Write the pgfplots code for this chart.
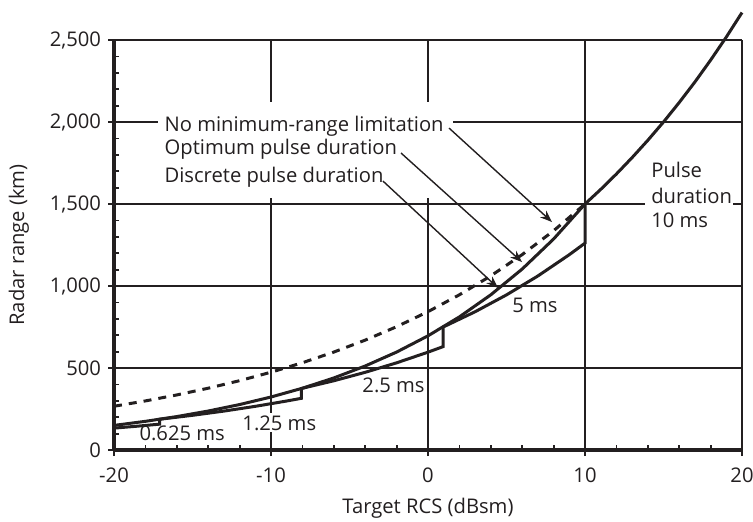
\documentclass[border=0pt]{standalone}
\usepackage{fontspec}
\setmainfont{Open Sans}
\usepackage{pgfplots}
\pgfplotsset{compat=1.18}
\usetikzlibrary{arrows.meta}
\definecolor{ink}{HTML}{231F20}
\begin{document}
\begin{tikzpicture}[font=\fontsize{10.1}{12}\selectfont]
\path[use as bounding box] (-57pt,-35.5pt) rectangle (319.5pt,225pt);
\begin{axis}[
 at={(0,0)}, anchor=south west,
 scale only axis, width=314pt, height=205pt,
 xmin=-20, xmax=20, ymin=0, ymax=2500,
 clip=false,
 axis x line*=bottom, axis y line*=left,
 axis line style={line width=1.6pt, color=ink},
 xtick={-20,-10,...,20}, ytick={0,500,...,2500},
 minor xtick={-18,-16,-14,-12,-8,-6,-4,-2,2,4,6,8,12,14,16,18},
 minor ytick={100,200,300,400,600,700,800,900,1100,1200,1300,1400,1600,1700,1800,1900,2100,2200,2300,2400},
 grid=major, major grid style={line width=0.8pt, color=ink},
 tick align=outside, major tick length=3pt, minor tick length=-2.5pt,
 every tick/.style={line width=0.9pt, color=ink},
 scaled y ticks=false,
 /pgf/number format/assume math mode=true,
 yticklabel style={/pgf/number format/1000 sep={,}, text=ink},
 xticklabel style={text=ink, yshift=-2.5pt},
 xlabel={Target RCS (dBsm)},
 ylabel={Radar range (km)},
 xlabel style={at={(axis description cs:0.5,-0.1415)}, anchor=center, text=ink},
 ylabel style={at={(axis description cs:-0.1513,0.5)}, anchor=center, rotate=0, text=ink},
]
% No minimum-range limitation (dashed)
\addplot[ink, line width=1.5pt, dash pattern=on 4pt off 3.5pt] coordinates {
(-20,266.7) (-18,299.3) (-16,335.8) (-14,376.8) (-12,422.8) (-10,474.3)
(-8,532.2) (-6,597.2) (-4,670.0) (-2,751.8) (0,843.5) (2,946.4)
(4,1061.9) (6,1191.5) (8,1336.9) (10,1500)};
% Optimum pulse duration
\addplot[ink, line width=1.5pt] coordinates {
(-20,150) (-18,174.9) (-16,203.9) (-14,237.7) (-12,277.2) (-10,323.2)
(-8,376.8) (-6,439.3) (-4,512.2) (-2,597.2) (0,696.2) (2,811.8)
(4,946.4) (6,1103.5) (8,1286.5) (10,1500)
(11,1589) (12,1683.0) (13,1783) (14,1888.4) (15,2000) (16,2118.8) (17,2244) (18,2377.3) (19,2518) (20,2667.4)};
% Discrete pulse duration
\addplot[ink, line width=1.5pt] coordinates {
(-20,133.4) (-18.5,145.4) (-17.093,157.7) (-17.093,187.5)
(-15,211.5) (-13,237.3) (-11,266.3) (-9,298.8) (-8.062,315.3) (-8.062,375)
(-6,422.2) (-4,473.7) (-2,531.6) (0,596.6) (0.969,630.7) (0.969,750)
(3,843.0) (5,945.9) (7,1061.3) (9,1191.0) (10,1261.4) (10,1500)};
% annotation block
\fill[white] (axis cs:-17.2,1537) rectangle (axis cs:1.59,2122);
\node[anchor=base west, inner sep=0, text=ink] at (axis cs:-16.8,1945) {No minimum-range limitation};
\node[anchor=base west, inner sep=0, text=ink] at (axis cs:-16.8,1799) {Optimum pulse duration};
\node[anchor=base west, inner sep=0, text=ink] at (axis cs:-16.8,1634) {Discrete pulse duration};
\draw[ink, line width=0.7pt, -{Stealth[length=6pt,width=4.5pt]}] (axis cs:1.34,1963) -- (axis cs:7.9,1390);
\draw[ink, line width=0.7pt, -{Stealth[length=6pt,width=4.5pt]}] (axis cs:-1.72,1811) -- (axis cs:5.99,1146);
\draw[ink, line width=0.7pt, -{Stealth[length=6pt,width=4.5pt]}] (axis cs:-2.87,1640) -- (axis cs:4.46,988);
% pulse duration 10 ms
\fill[white] (axis cs:13.8,1329) rectangle (axis cs:19.4,1768);
\node[anchor=base west, inner sep=0, text=ink] at (axis cs:14.2,1659) {Pulse};
\node[anchor=base west, inner sep=0, text=ink] at (axis cs:14.2,1506) {duration};
\node[anchor=base west, inner sep=0, text=ink] at (axis cs:14.2,1354) {10 ms};
% step labels
\node[anchor=base west, inner sep=0, text=ink] at (axis cs:5.35,841) {5 ms};
\node[anchor=base west, inner sep=0, text=ink] at (axis cs:-4.2,348) {2.5 ms};
\node[anchor=base west, inner sep=1pt, fill=white, text=ink] at (axis cs:-11.97,122) {1.25 ms};
\node[anchor=base west, inner sep=0, text=ink] at (axis cs:-18.4,61) {0.625 ms};
\end{axis}
\end{tikzpicture}
\end{document}
